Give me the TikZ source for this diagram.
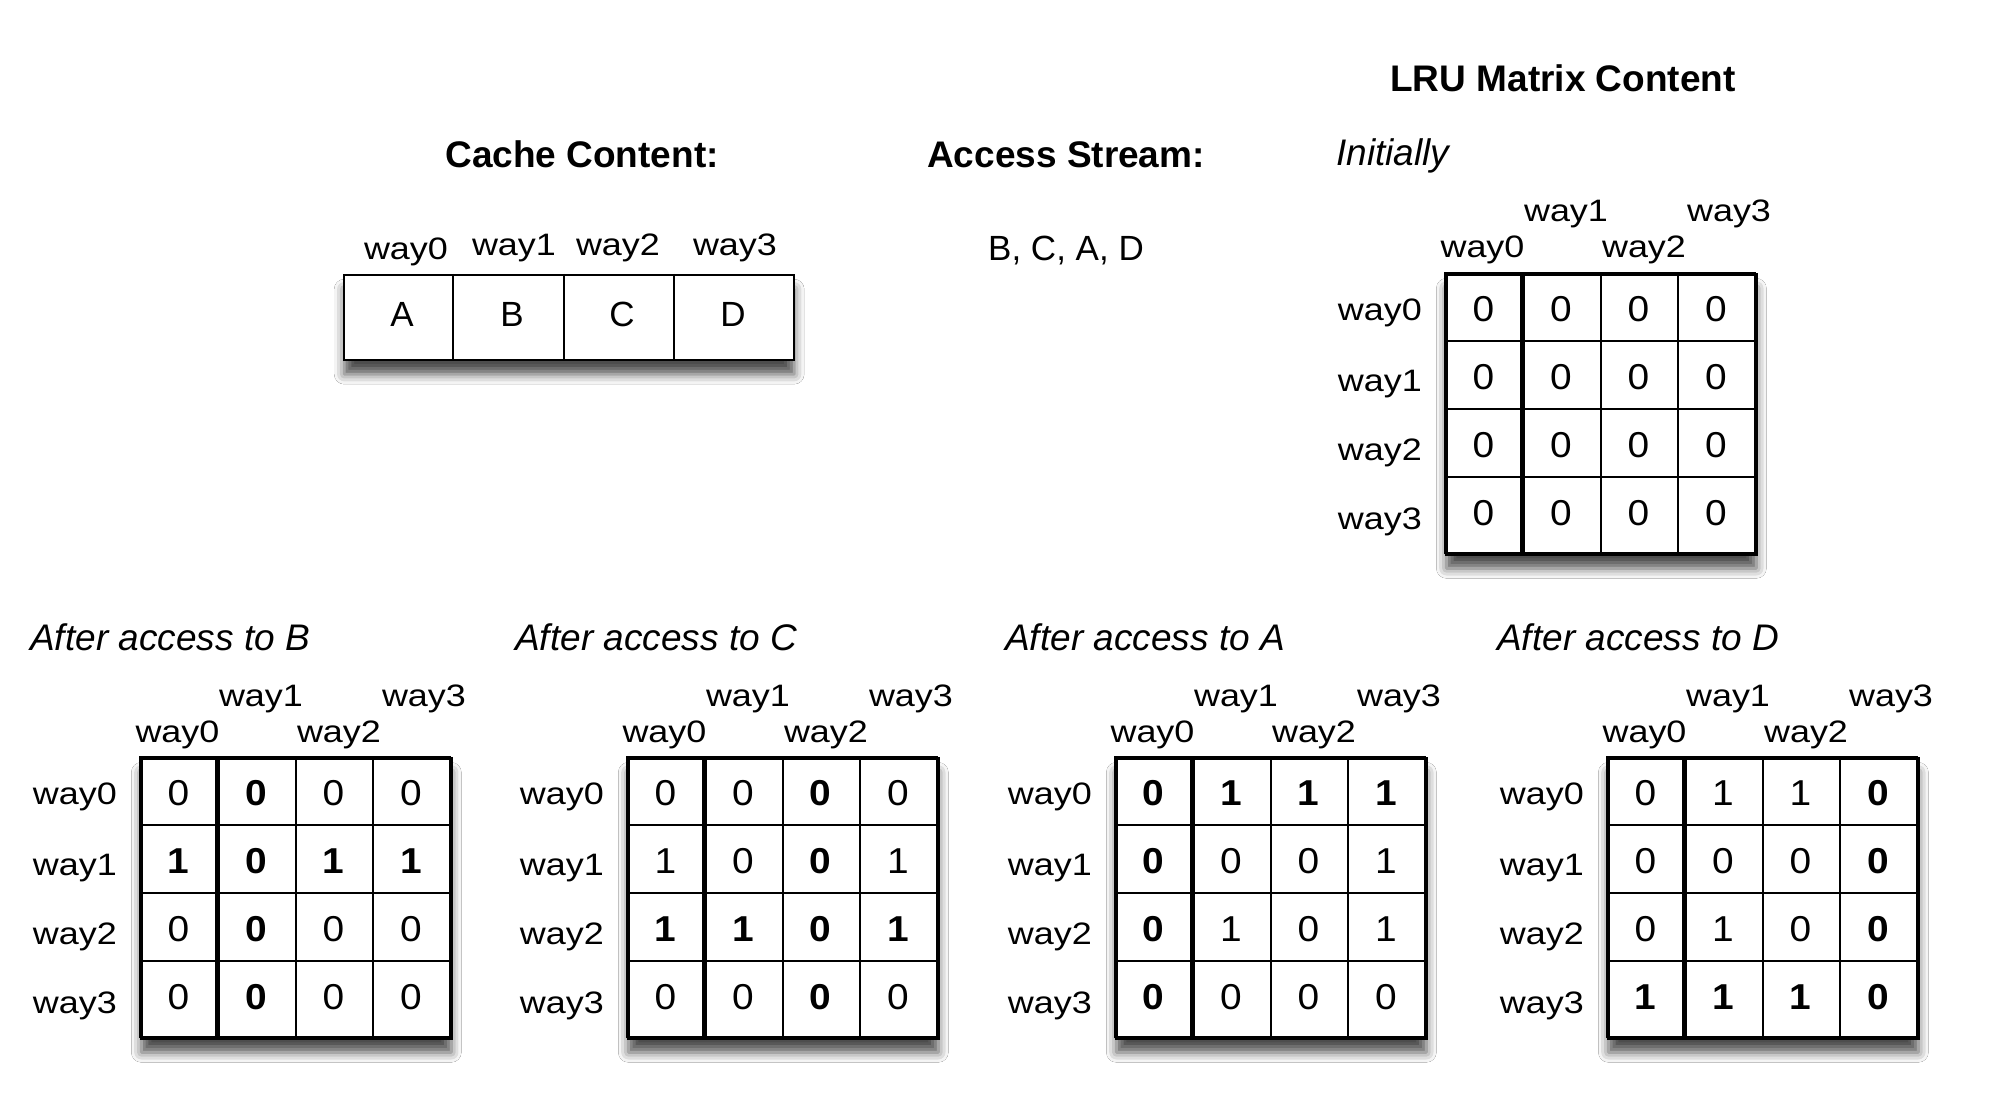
\documentclass[tikz,border=0pt]{standalone}
\usepackage{fontspec}
\setmainfont{Liberation Sans}
\usepackage{graphicx}
\usetikzlibrary{shadows.blur}
\newcommand{\wx}[1]{\scalebox{1.16}[1]{#1}}
\newcommand{\dx}[1]{\scalebox{1.08}[1]{#1}}
\newcommand{\bd}[1]{\textbf{#1}}
\tikzset{
  soft shadow/.style={blur shadow={shadow xshift=0pt, shadow yshift=-14pt, shadow blur radius=10pt, shadow opacity=70}},
  matframe/.style={draw, line width=2.7pt, fill=white, minimum width=310pt, minimum height=280pt, inner sep=0pt, soft shadow},
  cacheframe/.style={draw, line width=2.4pt, fill=white, minimum width=450pt, minimum height=85pt, inner sep=0pt, soft shadow},
  innerline/.style={line width=2pt},
  thickcol/.style={line width=4.3pt},
  lbl/.style={font=\fontsize{31}{31}\selectfont, inner sep=0pt},
  dig/.style={font=\fontsize{36}{36}\selectfont, inner sep=0pt, anchor=center},
  letter/.style={font=\fontsize{35}{35}\selectfont, inner sep=0pt, anchor=center},
  ttl/.style={font=\itshape\fontsize{37}{40}\selectfont, inner sep=0pt, anchor=base west},
  head/.style={font=\bfseries\fontsize{37}{40}\selectfont, inner sep=0pt, anchor=base},
}
% #1 name, #2 left, #3 top, #4-#7 rows
\newcommand{\lrumat}[7]{%
  \begin{scope}[shift={(#2,#3)}]
    \node[matframe, anchor=north west] (#1) at (0,0) {};
    \foreach \yy in {68,136,204} \draw[innerline] (0,\yy) -- (310,\yy);
    \foreach \xx in {156,233} \draw[innerline] (\xx,0) -- (\xx,280);
    \draw[thickcol] (77.5,0) -- (77.5,280);
    \draw[line width=2.7pt] (0,0) rectangle (310,280);
    \node[lbl, anchor=base] (#1-c0) at (37.5,-15) {\wx{way0}};
    \node[lbl, anchor=base] (#1-c1) at (121,-51) {\wx{way1}};
    \node[lbl, anchor=base] (#1-c2) at (199,-15) {\wx{way2}};
    \node[lbl, anchor=base] (#1-c3) at (284,-51) {\wx{way3}};
    \node[lbl, anchor=base east] (#1-r0) at (-23,47) {\wx{way0}};
    \node[lbl, anchor=base east] (#1-r1) at (-23,118) {\wx{way1}};
    \node[lbl, anchor=base east] (#1-r2) at (-23,187) {\wx{way2}};
    \node[lbl, anchor=base east] (#1-r3) at (-23,256) {\wx{way3}};
    \foreach \vv [count=\cc] in {#4} \node[dig] (#1-0-\cc) at ({\cc*77.5-39},36) {\dx{\vv}};
    \foreach \vv [count=\cc] in {#5} \node[dig] (#1-1-\cc) at ({\cc*77.5-39},104) {\dx{\vv}};
    \foreach \vv [count=\cc] in {#6} \node[dig] (#1-2-\cc) at ({\cc*77.5-39},172) {\dx{\vv}};
    \foreach \vv [count=\cc] in {#7} \node[dig] (#1-3-\cc) at ({\cc*77.5-39},240) {\dx{\vv}};
  \end{scope}%
}
\begin{document}
\begin{tikzpicture}[x=1pt,y=-1pt]
\fill[white] (0,0) rectangle (1990,1110);
\useasboundingbox (0,0) rectangle (1990,1110);

% headings
\node[head] (hcache) at (582,168) {Cache Content:};
\node[head] (hstream) at (1066,168) {Access Stream:};
\node[head] (hlru) at (1563,92) {LRU Matrix Content};
\node[font=\fontsize{35}{35}\selectfont, inner sep=0pt, anchor=base] (stream) at (1066,261) {B, C, A, D};
\node[ttl] (tinit) at (1336,166) {Initially};

% cache content box
\node[cacheframe, anchor=north west] (cache) at (343,274) {};
\foreach \xx in {453,564,674} \draw[line width=2.4pt] (\xx,274) -- (\xx,359);
\node[letter] (cA) at (402,314) {A};
\node[letter] (cB) at (512,314) {B};
\node[letter] (cC) at (622,314) {C};
\node[letter] (cD) at (733,314) {D};
\node[lbl, anchor=base] (cw0) at (406,259) {\wx{way0}};
\node[lbl, anchor=base] (cw1) at (514,255) {\wx{way1}};
\node[lbl, anchor=base] (cw2) at (618,255) {\wx{way2}};
\node[lbl, anchor=base] (cw3) at (735,255) {\wx{way3}};

% initial matrix
\lrumat{mI}{1445}{273}{0,0,0,0}{0,0,0,0}{0,0,0,0}{0,0,0,0}

% titles
\node[ttl] (tB) at (30,650) {After access to B};
\node[ttl] (tC) at (515,650) {After access to C};
\node[ttl] (tA) at (1005,650) {After access to A};
\node[ttl] (tD) at (1497,650) {After access to D};

\lrumat{mB}{140}{757}{0,\bd{0},0,0}{\bd{1},\bd{0},\bd{1},\bd{1}}{0,\bd{0},0,0}{0,\bd{0},0,0}
\lrumat{mC}{627}{757}{0,0,\bd{0},0}{1,0,\bd{0},1}{\bd{1},\bd{1},\bd{0},\bd{1}}{0,0,\bd{0},0}
\lrumat{mA}{1115}{757}{\bd{0},\bd{1},\bd{1},\bd{1}}{\bd{0},0,0,1}{\bd{0},1,0,1}{\bd{0},0,0,0}
\lrumat{mD}{1607}{757}{0,1,1,\bd{0}}{0,0,0,\bd{0}}{0,1,0,\bd{0}}{\bd{1},\bd{1},\bd{1},\bd{0}}
\end{tikzpicture}
\end{document}
